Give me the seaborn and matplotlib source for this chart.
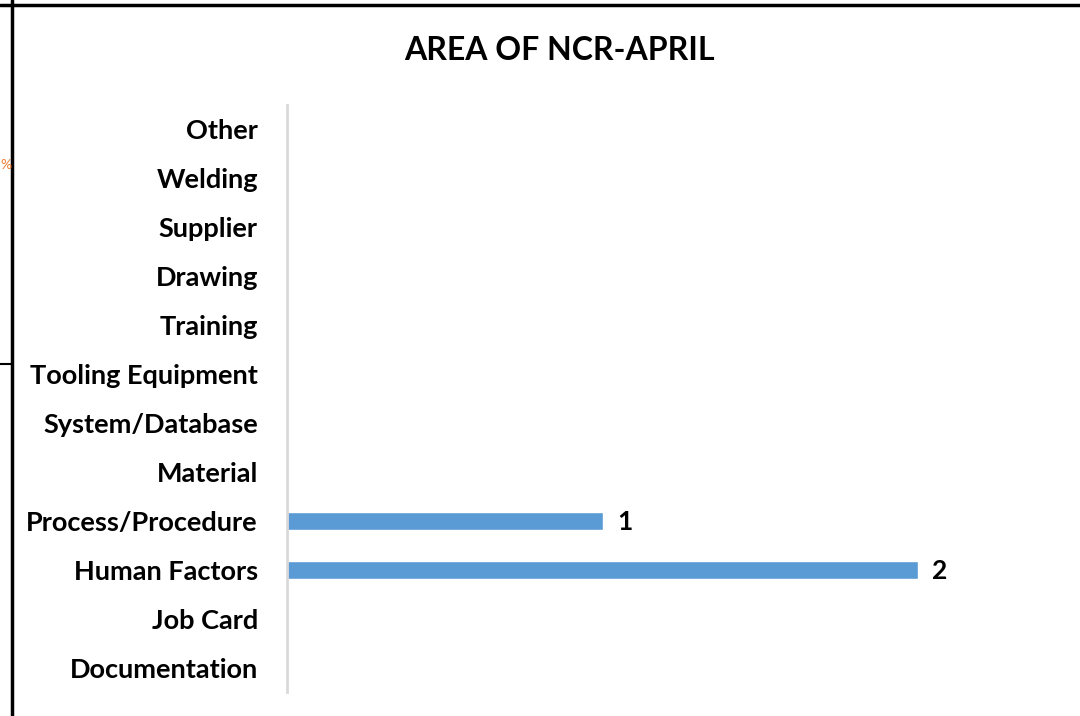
import matplotlib
matplotlib.use('Agg')
import matplotlib.pyplot as plt
import seaborn as sns
import pandas as pd
from matplotlib.lines import Line2D

# dati del grafico (dall'alto verso il basso)
categorie = ['Other', 'Welding', 'Supplier', 'Drawing', 'Training', 'Tooling Equipment',
             'System/Database', 'Material', 'Process/Procedure', 'Human Factors',
             'Job Card', 'Documentation']
valori = [0, 0, 0, 0, 0, 0, 0, 0, 1, 2, 0, 0]
titolo = 'AREA OF NCR-APRIL'

df = pd.DataFrame({'area': categorie, 'ncr': valori})

sns.set_theme(style='white')
plt.rcParams['font.family'] = ['Lato', 'DejaVu Sans']

fig = plt.figure(figsize=(10.8, 7.16), dpi=100)
ax = fig.add_axes([287 / 1080, 1 - 692 / 716, (1076 - 287) / 1080, 587 / 716])

sns.barplot(data=df, x='ncr', y='area', order=categorie, color='#5B9BD5',
            width=0.37, saturation=1, ax=ax)

ax.set_xlim(0, 2.5)
ax.set_ylim(11.5, -0.5)
ax.set_xlabel('')
ax.set_ylabel('')
ax.set_xticks([])
ax.tick_params(axis='y', length=0, pad=21, labelsize=19.5)
for lab in ax.get_yticklabels():
    lab.set_fontweight('bold')
    lab.set_color('black')
for lato in ['top', 'right', 'bottom']:
    ax.spines[lato].set_visible(False)
ax.spines['left'].set_color('#D9D9D9')
ax.spines['left'].set_linewidth(2)

# etichette valori
for i, v in enumerate(valori):
    if v > 0:
        ax.text(v + 0.045, i + 0.02, str(v), va='center', ha='left', fontsize=19,
                fontweight='bold', color='black')

fig.text(559 / 1080, 1 - 50 / 716, titolo, ha='center', va='center',
         fontsize=23, fontweight='bold', color='black')

# bordi della cella del foglio
fig.add_artist(Line2D([0, 1], [1 - 5 / 716, 1 - 5 / 716], color='black', lw=2.5,
                      transform=fig.transFigure))
fig.add_artist(Line2D([12 / 1080, 12 / 1080], [0, 1], color='black', lw=2.5,
                      transform=fig.transFigure))
fig.add_artist(Line2D([0, 12 / 1080], [1 - 364 / 716, 1 - 364 / 716], color='black',
                      lw=1.5, transform=fig.transFigure))
fig.text(0.5 / 1080, 1 - 165 / 716, '%', color='#ED7D31', fontsize=10, ha='left', va='center')

fig.savefig('out.png', dpi=100)
